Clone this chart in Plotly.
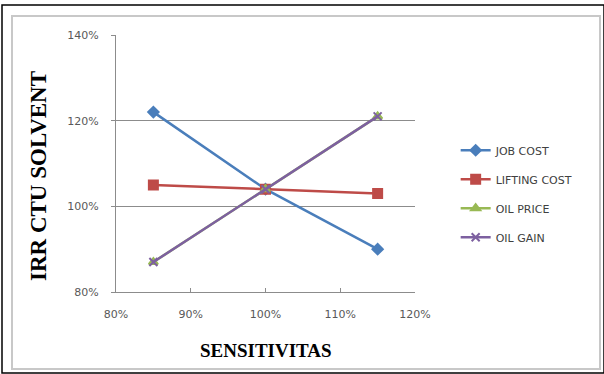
import plotly.graph_objects as go

# Sensitivity levels (x) and IRR results per parameter
sensitivitas = [0.85, 1.00, 1.15]
job_cost = [1.22, 1.04, 0.90]
lifting_cost = [1.05, 1.04, 1.03]
oil_price = [0.87, 1.04, 1.21]
oil_gain = [0.87, 1.04, 1.21]

x_ticks = [0.80, 0.90, 1.00, 1.10, 1.20]
y_ticks = [0.80, 1.00, 1.20, 1.40]

x_title = "SENSITIVITAS"
y_title = "IRR CTU SOLVENT"

series = [
    ("JOB COST", job_cost, "#4a7ebb", "diamond", 8),
    ("LIFTING COST", lifting_cost, "#be4b48", "square", 9),
    ("OIL PRICE", oil_price, "#98b954", "triangle-up", 8),
    ("OIL GAIN", oil_gain, "#7d60a0", "x-thin", 8),
]

fig = go.Figure()
for name, vals, color, sym, size in series:
    fig.add_trace(go.Scatter(
        x=sensitivitas, y=vals, name=name, legendgroup=name,
        mode="lines+markers",
        line=dict(color=color, width=2.5),
        marker=dict(symbol=sym, size=size, color=color,
                    line=dict(color=color, width=2)),
    ))

tick_font = dict(family="DejaVu Sans", size=11, color="#595959")

# plot area spans x 116..415 px and y 35..292 px
PW, PH = 299, 257

fig.update_layout(
    width=604, height=374,
    margin=dict(l=116, r=189, t=35, b=82),
    paper_bgcolor="white", plot_bgcolor="white",
    showlegend=True,
    legend=dict(
        x=1.136, y=0.608, xanchor="left", yanchor="top",
        font=dict(family="DejaVu Sans", size=11, color="#404040"),
        itemwidth=30, tracegroupgap=10, bgcolor="rgba(0,0,0,0)",
    ),
    xaxis=dict(
        range=[0.80, 1.20], tickvals=x_ticks, tickformat=".0%",
        showgrid=False, zeroline=False,
        showline=True, linecolor="#8c8c8c", linewidth=1,
        ticks="inside", ticklen=4, tickcolor="#8c8c8c",
        tickfont=tick_font, ticklabelstandoff=12,
    ),
    yaxis=dict(
        range=[0.80, 1.40], tickvals=y_ticks, tickformat=".0%",
        showgrid=True, gridcolor="#8c8c8c", gridwidth=1, zeroline=False,
        showline=True, linecolor="#8c8c8c", linewidth=1,
        ticks="outside", ticklen=4, tickcolor="#8c8c8c",
        tickfont=tick_font, ticklabelstandoff=10,
    ),
    annotations=[
        dict(text="<b>%s</b>" % y_title, xref="paper", yref="paper",
             x=(38 - 116) / PW, y=(292 - 176) / PH, showarrow=False,
             textangle=-90, xanchor="center", yanchor="middle",
             font=dict(family="Liberation Serif", size=23, color="black")),
        dict(text="<b>%s</b>" % x_title, xref="paper", yref="paper",
             x=(266 - 116) / PW, y=(292 - 350) / PH, showarrow=False,
             xanchor="center", yanchor="middle",
             font=dict(family="Liberation Serif", size=19, color="black")),
    ],
    shapes=[
        # outer frame
        dict(type="rect", xref="paper", yref="paper",
             x0=-114 / PW, x1=(604 - 116) / PW,
             y0=-81 / PH, y1=(292 - 5) / PH,
             line=dict(color="black", width=1.5), layer="below"),
        # chart area border
        dict(type="rect", xref="paper", yref="paper",
             x0=-104 / PW, x1=(600 - 116) / PW,
             y0=-77 / PH, y1=(292 - 16) / PH,
             line=dict(color="#c8c8c8", width=2), layer="below"),
    ],
)

fig.write_html("out.html")
